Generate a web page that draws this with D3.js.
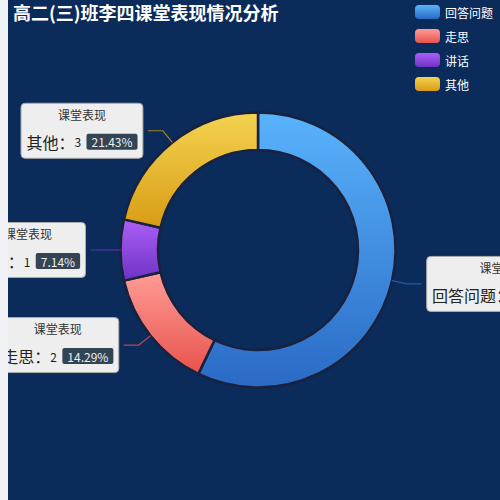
<!DOCTYPE html>
<html>
<head>
<meta charset="utf-8">
<script src="https://cdn.jsdelivr.net/npm/d3@7"></script>
<style>
  html, body { margin: 0; padding: 0; background: #f0f2f5; }
  svg { display: block; }
  text { font-family: "Noto Sans CJK SC", "Noto Sans", sans-serif; }
</style>
</head>
<body>
<svg id="chart" width="500" height="500"></svg>
<script>
var title_text = "高二(三)班李四课堂表现情况分析";
var series_name = "课堂表现";
var categories = ["回答问题", "走思", "讲话", "其他"];
var counts = [8, 2, 1, 3];

// gradient stops per slice (top -> bottom)
var color_top = ["#59b3fc", "#ff9c95", "#ab5ff5", "#f4d350"];
var color_bottom = ["#2a6ac5", "#e8534e", "#6f32c6", "#d89c15"];

var bg_color = "#0b2b5a";
var inner_r = 100;
var outer_r = 137.5;
var len1 = 15;
var len2 = 15;

var svg, chart, defs;

window.addEventListener('load', function ()
{
  init();
})

function init()
{
  svg = d3.select("#chart");
  svg.append("rect").attr("width", 500).attr("height", 500).attr("fill", "#f0f2f5");
  defs = svg.append("defs");
  defs.append("clipPath").attr("id", "view-clip")
    .append("rect").attr("width", 500).attr("height", 500);

  // chart container sits 8px in from the left edge
  chart = svg.append("g").attr("transform", "translate(8,0)").attr("clip-path", "url(#view-clip)");
  chart.append("rect").attr("width", 500).attr("height", 500).attr("fill", bg_color);

  build_gradients();
  build_pie();
  build_title();
  build_legend();
}

function build_gradients()
{
  categories.forEach(function(c, i)
  {
    var g = defs.append("linearGradient").attr("id", "grad-" + i)
      .attr("x1", 0).attr("y1", 0).attr("x2", 0).attr("y2", 1);
    g.append("stop").attr("offset", "0%").attr("stop-color", color_top[i]);
    g.append("stop").attr("offset", "100%").attr("stop-color", color_bottom[i]);
  });
}

function build_title()
{
  chart.append("text")
    .attr("x", 5).attr("y", 19.5)
    .attr("font-size", 18).attr("font-weight", "bold")
    .attr("fill", "#fff")
    .text(title_text);
}

function build_legend()
{
  var item_w = 25, item_h = 14, gap = 10;
  var leg = chart.append("g");
  var items = leg.selectAll(".legend-item").data(categories).enter()
    .append("g").classed("legend-item", true)
    .attr("transform", function(d, i) { return "translate(0," + (5 + i * (item_h + gap)) + ")"; });
  items.append("rect")
    .attr("width", item_w).attr("height", item_h).attr("rx", 4)
    .attr("fill", function(d, i) { return "url(#grad-" + i + ")"; });
  var labels = items.append("text")
    .attr("x", item_w + 5).attr("y", item_h / 2)
    .attr("dominant-baseline", "central")
    .attr("font-size", 12).attr("fill", "#fff")
    .text(function(d) { return d; });

  var max_w = 0;
  labels.each(function() { max_w = Math.max(max_w, this.getComputedTextLength()); });
  var legend_w = item_w + 5 + max_w;
  leg.attr("transform", "translate(" + (500 - 15 - legend_w) + ",0)");
}

function build_pie()
{
  var total = d3.sum(counts);
  var pie = d3.pie().sort(null).value(function(d) { return d; });
  var arcs = pie(counts);
  var arc = d3.arc().innerRadius(inner_r).outerRadius(outer_r);
  var fmt = d3.format(".2f");

  var pie_g = chart.append("g").attr("transform", "translate(250,250)");
  pie_g.selectAll("path.slice").data(arcs).enter()
    .append("path").classed("slice", true)
    .attr("d", arc)
    .attr("fill", function(d, i) { return "url(#grad-" + i + ")"; })
    .attr("stroke", "#18223e")
    .attr("stroke-width", 2.5)
    .attr("stroke-linejoin", "round");

  // label lines + rich label boxes
  var line = d3.line();
  arcs.forEach(function(d, i)
  {
    var a = (d.startAngle + d.endAngle) / 2;
    var dx = Math.sin(a), dy = -Math.cos(a);
    var side = dx < 0 ? -1 : 1;
    var p0 = [outer_r * dx, outer_r * dy];
    var p1 = [(outer_r + len1) * dx, (outer_r + len1) * dy];
    var p2 = [p1[0] + side * len2, p1[1]];

    pie_g.append("path")
      .attr("d", line([p0, p1, p2]))
      .attr("fill", "none")
      .attr("stroke", color_bottom[i])
      .attr("stroke-opacity", 0.75)
      .attr("stroke-width", 1.2);

    build_label(pie_g, i, fmt(d.value / total * 100), side, p2);
  });
}

function build_label(parent, i, pct, side, anchor)
{
  var g = parent.append("g");
  var box = g.append("rect");
  var space = g.append("text").attr("font-size", 12).style("white-space", "pre").text("  ");
  var lead = space.node().getComputedTextLength();
  space.remove();

  var title = g.append("text").attr("font-size", 12).attr("fill", "#333")
    .attr("text-anchor", "middle").attr("dominant-baseline", "central").text(series_name);
  var name = g.append("text").attr("font-size", 16).attr("fill", "#222")
    .attr("dominant-baseline", "central").text(categories[i] + "：");
  var val = g.append("text").attr("font-size", 12).attr("fill", "#222")
    .attr("dominant-baseline", "central").text(counts[i]);
  var badge = g.append("rect");
  var per = g.append("text").attr("font-size", 12).attr("fill", "#eee")
    .attr("dominant-baseline", "central").text(pct + "%");

  var w_name = name.node().getComputedTextLength();
  var w_val = val.node().getComputedTextLength();
  var w_per = per.node().getComputedTextLength();
  var badge_w = w_per + 10;
  var box_w = lead + w_name + w_val + lead + badge_w + lead;
  var box_h = 55;

  var left = side > 0 ? anchor[0] + 5 : anchor[0] - 5 - box_w;
  var top = anchor[1] - box_h / 2;
  var row2 = top + 22 + 16.5;

  box.attr("x", left).attr("y", top).attr("width", box_w).attr("height", box_h)
    .attr("rx", 4).attr("fill", "#eee").attr("stroke", "#aaa").attr("stroke-width", 1);
  title.attr("x", left + box_w / 2).attr("y", top + 11);
  name.attr("x", left + lead).attr("y", row2);
  val.attr("x", left + lead + w_name).attr("y", row2);
  var bx = left + lead + w_name + w_val + lead;
  badge.attr("x", bx).attr("y", row2 - 8).attr("width", badge_w).attr("height", 16)
    .attr("rx", 2).attr("fill", "#334455");
  per.attr("x", bx + 5).attr("y", row2);
}
</script>
</body>
</html>
